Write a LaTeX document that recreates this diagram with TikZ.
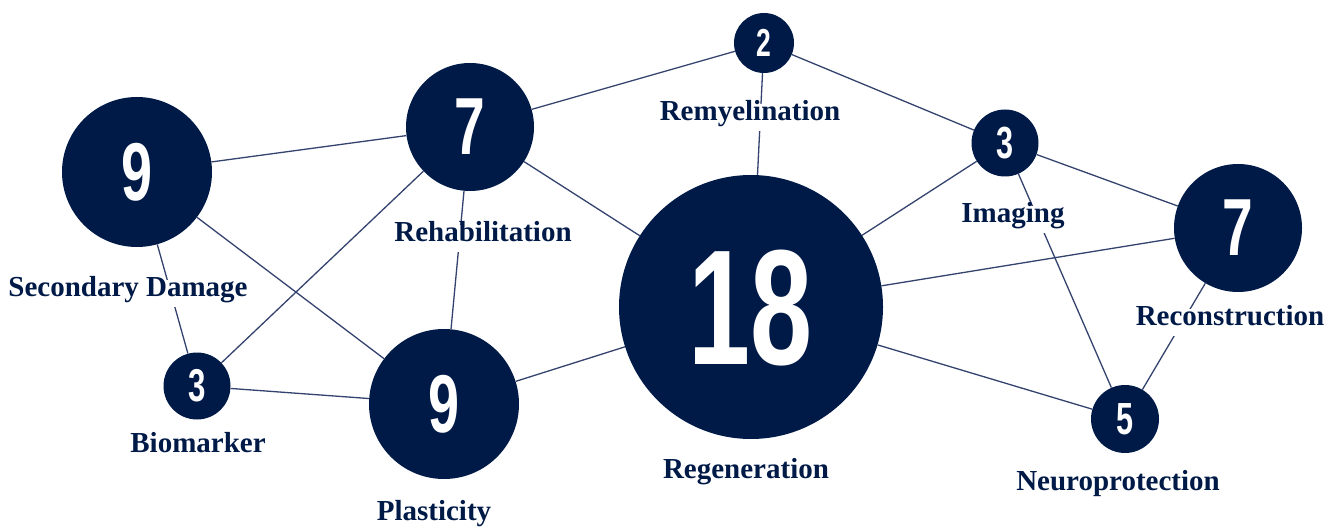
\documentclass[tikz,border=0pt]{standalone}
\usepackage{fontspec}
\setmainfont{Liberation Serif}
\newfontfamily\numfont[FakeStretch=0.68]{Liberation Sans}
\definecolor{navy}{HTML}{001A48}
\definecolor{edgeblue}{HTML}{34426E}

\begin{document}
\begin{tikzpicture}[x=1pt,y=-1pt,
	topic/.style={circle,fill=navy,text=white,inner sep=0pt,text depth=0.05em,font=\numfont\bfseries},
	tag/.style={anchor=base,fill=white,text=navy,inner xsep=6pt,inner ysep=8pt,
		text height=0.85em,text depth=0.25em,font=\bfseries\fontsize{29}{29}\selectfont},
	link/.style={draw=edgeblue,line width=1.3pt}]
			\useasboundingbox (0,0) rectangle (1328,529);

			% circles
			\node[topic,minimum size=150pt,font=\numfont\bfseries\fontsize{82}{82}\selectfont] (damage) at (137,172) {9};
			\node[topic,minimum size=128pt,font=\numfont\bfseries\fontsize{81}{81}\selectfont] (rehab) at (470,127) {7};
			\node[topic,minimum size=60pt,font=\numfont\bfseries\fontsize{39}{39}\selectfont] (remyel) at (764,43) {2};
			\node[topic,minimum size=67pt,font=\numfont\bfseries\fontsize{45}{45}\selectfont] (imaging) at (1005,143) {3};
			\node[topic,minimum size=128pt,font=\numfont\bfseries\fontsize{81}{81}\selectfont] (recon) at (1238,228) {7};
			\node[topic,minimum size=264pt,font=\numfont\bfseries\fontsize{164}{164}\selectfont] (regen) at (751,307) {18};
			\node[topic,minimum size=68pt,font=\numfont\bfseries\fontsize{45}{45}\selectfont] (neuro) at (1125,419) {5};
			\node[topic,minimum size=150pt,font=\numfont\bfseries\fontsize{82}{82}\selectfont] (plast) at (444,404) {9};
			\node[topic,minimum size=67pt,font=\numfont\bfseries\fontsize{46}{46}\selectfont] (biomark) at (197,386) {3};

			% links
			\draw[link] (damage) -- (rehab);
			\draw[link] (damage) -- (biomark);
			\draw[link] (damage) -- (plast);
			\draw[link] (rehab) -- (biomark);
			\draw[link] (rehab) -- (plast);
			\draw[link] (rehab) -- (regen);
			\draw[link] (rehab) -- (remyel);
			\draw[link] (remyel) -- (regen);
			\draw[link] (remyel) -- (imaging);
			\draw[link] (imaging) -- (regen);
			\draw[link] (imaging) -- (recon);
			\draw[link] (imaging) -- (neuro);
			\draw[link] (recon) -- (regen);
			\draw[link] (recon) -- (neuro);
			\draw[link] (regen) -- (plast);
			\draw[link] (regen) -- (neuro);
			\draw[link] (biomark) -- (plast);

			% labels
			\node[tag] (damage-l) at (128,297) {Secondary Damage};
			\node[tag] (rehab-l) at (483,242) {Rehabilitation};
			\node[tag] (remyel-l) at (750,121) {Remyelination};
			\node[tag] (imaging-l) at (1013,223) {Imaging};
			\node[tag] (recon-l) at (1230,326) {Reconstruction};
			\node[tag] (regen-l) at (746,478) {Regeneration};
			\node[tag] (neuro-l) at (1118,490) {Neuroprotection};
			\node[tag] (plast-l) at (434,520) {Plasticity};
			\node[tag] (biomark-l) at (198,452) {Biomarker};
			\end{tikzpicture}
\end{document}
